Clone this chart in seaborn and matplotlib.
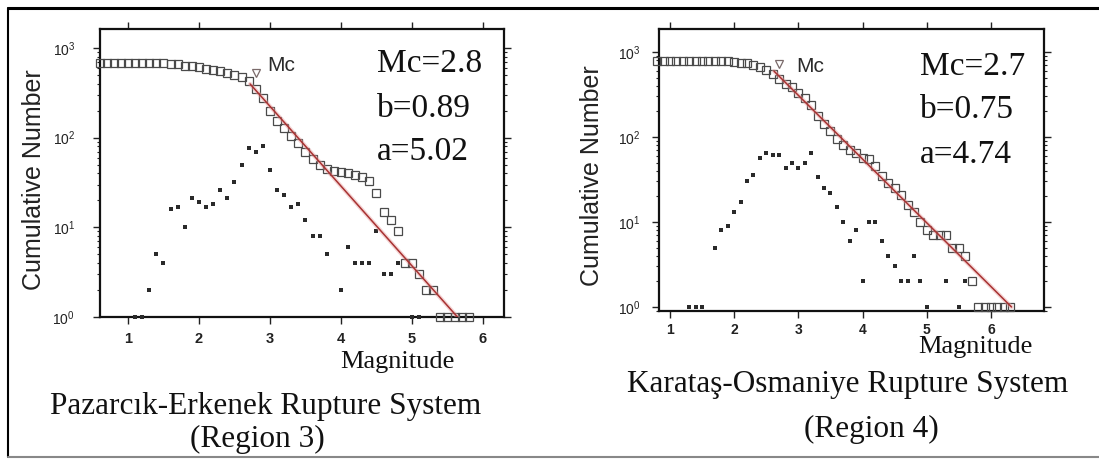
import matplotlib
matplotlib.use("Agg")
import numpy as np
import matplotlib.pyplot as plt
from matplotlib.lines import Line2D
from matplotlib.ticker import FixedLocator, LogLocator, NullFormatter
import seaborn as sns

# ---------------- Region 3: Pazarcık-Erkenek ----------------
cum3_mag = [0.6, 0.7, 0.8, 0.9, 1.0, 1.1, 1.2, 1.3, 1.4, 1.5, 1.6, 1.7, 1.8, 1.9,
            2.0, 2.1, 2.2, 2.3, 2.4, 2.5, 2.6, 2.7, 2.8, 2.9, 3.0, 3.1, 3.2, 3.3,
            3.4, 3.5, 3.6, 3.7, 3.8, 3.9, 4.0, 4.1, 4.2, 4.3, 4.4, 4.5, 4.6, 4.7,
            4.8, 4.9, 5.0, 5.1, 5.2, 5.3, 5.4, 5.5, 5.6, 5.7, 5.8]
cum3_n = [684, 684, 684, 684, 684, 684, 683, 682, 680, 675, 671, 655, 638, 628,
          607, 588, 571, 553, 527, 506, 474, 425, 348, 278, 198, 154, 128, 105,
          88, 70, 58, 50, 45, 42, 41, 40, 38, 36, 33, 24, 15, 12,
          9, 4, 4, 3, 2, 2, 1, 1, 1, 1, 1]
inc3_mag = [1.1, 1.2, 1.3, 1.4, 1.5, 1.6, 1.7, 1.8, 1.9, 2.0, 2.1, 2.2, 2.3, 2.4,
            2.5, 2.6, 2.7, 2.8, 2.9, 3.0, 3.1, 3.2, 3.3, 3.4, 3.5, 3.6, 3.7, 3.8,
            4.0, 4.1, 4.2, 4.3, 4.4, 4.5, 4.6, 4.7, 4.8, 5.0, 5.1]
inc3_n = [1, 1, 2, 5, 4, 16, 17, 10, 21, 19, 17, 18, 26, 21,
          32, 49, 77, 70, 80, 44, 26, 23, 17, 18, 12, 8, 8, 5,
          2, 6, 4, 4, 4, 9, 3, 3, 4, 1, 1]
mc3, mc3_marker_n = 2.8, 520
b3, a3 = 0.89, 5.02

# ---------------- Region 4: Karataş-Osmaniye ----------------
cum4_mag = [0.8, 0.9, 1.0, 1.1, 1.2, 1.3, 1.4, 1.5, 1.6, 1.7, 1.8, 1.9, 2.0, 2.1,
            2.2, 2.3, 2.4, 2.5, 2.6, 2.7, 2.8, 2.9, 3.0, 3.1, 3.2, 3.3, 3.4, 3.5,
            3.6, 3.7, 3.8, 3.9, 4.0, 4.1, 4.2, 4.3, 4.4, 4.5, 4.6, 4.7, 4.8, 4.9,
            5.0, 5.1, 5.2, 5.3, 5.4, 5.5, 5.6, 5.7, 5.8, 5.9, 6.0, 6.1, 6.2, 6.3]
cum4_n = [790, 790, 790, 790, 790, 790, 789, 788, 787, 787, 782, 774, 765, 752,
          735, 705, 669, 613, 548, 487, 426, 383, 334, 291, 241, 177, 143, 118,
          96, 81, 71, 65, 57, 55, 45, 35, 29, 25, 21, 16, 13, 10,
          8, 7, 7, 7, 5, 5, 4, 2, 1, 1, 1, 1, 1, 1]
inc4_mag = [1.3, 1.4, 1.5, 1.7, 1.8, 1.9, 2.0, 2.1, 2.2, 2.3, 2.4, 2.5, 2.6, 2.7,
            2.8, 2.9, 3.0, 3.1, 3.2, 3.3, 3.4, 3.5, 3.6, 3.7, 3.8, 3.9, 4.0, 4.1,
            4.2, 4.3, 4.4, 4.5, 4.6, 4.7, 4.8, 4.9, 5.0, 5.3, 5.5, 5.6]
inc4_n = [1, 1, 1, 5, 8, 9, 13, 17, 30, 36, 56, 65, 61, 61,
          43, 49, 43, 50, 64, 34, 25, 22, 15, 10, 6, 8, 2, 10,
          10, 6, 4, 3, 2, 2, 4, 2, 1, 2, 1, 2]
mc4, mc4_marker_n = 2.7, 720
b4, a4 = 0.75, 4.74

x_ticks = [1, 2, 3, 4, 5, 6]
x_tick_labels = ["1", "2", "3", "4", "5", "6"]

sns.set_style("ticks")
plt.rcParams["font.family"] = ["Liberation Sans", "DejaVu Sans"]
plt.rcParams["mathtext.fontset"] = "custom"
plt.rcParams["mathtext.rm"] = "Liberation Sans:bold"
plt.rcParams["mathtext.it"] = "Liberation Sans:bold"
plt.rcParams["mathtext.bf"] = "Liberation Sans:bold"

W, H = 1099, 459
fig = plt.figure(figsize=(W / 100, H / 100), dpi=100)


def fx(px):
    return px / W


def fy(py):
    return 1 - py / H


SERIF = "Liberation Serif"


def draw_panel(ax, cum_m, cum_n, inc_m, inc_n, mc, mc_n, b, a,
               xlim, ylim, ypad, xpad, xlabsize):
    ax.set_yscale("log")
    # non-cumulative counts per magnitude bin
    sns.scatterplot(x=inc_m, y=inc_n, ax=ax, marker="s", s=8,
                    color="#2a2a2a", linewidth=0, clip_on=False, zorder=3)
    # cumulative counts
    sns.lineplot(x=cum_m, y=cum_n, ax=ax, marker="s", markersize=5.6,
                 mfc="none", mec="#4a4a4a", mew=0.9, linestyle="none",
                 clip_on=False, zorder=4)
    # Gutenberg-Richter fit: log N = a - b M, from Mc down to N = 1
    m_fit = [mc - 0.08, a / b]
    n_fit = [10 ** (a - b * m) for m in m_fit]
    sns.lineplot(x=m_fit, y=n_fit, ax=ax, color="#e8a0a0", lw=3.0,
                 alpha=0.45, zorder=5)
    sns.lineplot(x=m_fit, y=n_fit, ax=ax, color="#a83232", lw=1.1, zorder=5)
    # completeness magnitude marker
    sns.lineplot(x=[mc], y=[mc_n], ax=ax, marker="v", markersize=6,
                 mfc="none", mec="#7a6a6a", mew=0.9, linestyle="none",
                 clip_on=False, zorder=6)

    ax.set_xlim(*xlim)
    ax.set_ylim(*ylim)
    ax.xaxis.set_major_locator(FixedLocator(x_ticks))
    ax.set_xticklabels(x_tick_labels)
    ax.yaxis.set_major_locator(LogLocator(base=10, numticks=10))
    ax.yaxis.set_minor_locator(LogLocator(base=10, subs=np.arange(2, 10), numticks=10))
    ax.yaxis.set_minor_formatter(NullFormatter())
    ax.tick_params(which="both", direction="out", top=True, right=True,
                   labeltop=False, labelright=False, color="#222222")
    ax.tick_params(which="major", length=5, width=1.0)
    ax.tick_params(which="minor", length=2.5, width=0.8)
    ax.tick_params(axis="y", pad=ypad, labelsize=10, labelcolor="#222222")
    ax.tick_params(axis="x", pad=xpad, labelsize=xlabsize, labelcolor="#222222")
    for lbl in ax.get_xticklabels():
        lbl.set_fontweight("bold")
    for sp in ax.spines.values():
        sp.set_linewidth(1.6)
        sp.set_color("#111111")
    ax.set_xlabel("")
    ax.set_ylabel("")
    ax.set_facecolor("white")


ax3 = fig.add_axes([fx(100), fy(317), (504 - 100) / W, (317 - 29) / H])
draw_panel(ax3, cum3_mag, cum3_n, inc3_mag, inc3_n, mc3, mc3_marker_n, b3, a3,
           xlim=(0.606, 6.296), ylim=(1, 1630), ypad=13, xpad=6, xlabsize=10.5)

ax4 = fig.add_axes([fx(659), fy(311), (1044 - 659) / W, (311 - 29) / H])
draw_panel(ax4, cum4_mag, cum4_n, inc4_mag, inc4_n, mc4, mc4_marker_n, b4, a4,
           xlim=(0.829, 6.826), ylim=(0.897, 1866), ypad=8.5, xpad=4, xlabsize=10)

# y-axis titles
fig.text(fx(34), fy(180), "Cumulative Number", rotation=90, ha="center",
         va="center", fontsize=18, color="#222222")
fig.text(fx(592), fy(176), "Cumulative Number", rotation=90, ha="center",
         va="center", fontsize=18, color="#222222")

# Mc labels next to the triangles
fig.text(fx(267), fy(66), "Mc", fontsize=15, ha="left", va="center", color="#2a2a2a")
fig.text(fx(796), fy(67), "Mc", fontsize=15, ha="left", va="center", color="#2a2a2a")

# fit parameters
for x0, ys, lines in [
    (377, (72, 117, 160), [f"Mc={mc3}", f"b={b3:.2f}", f"a={a3:.2f}"]),
    (920, (75, 118, 163), [f"Mc={mc4}", f"b={b4:.2f}", f"a={a4:.2f}"]),
]:
    for y0, s in zip(ys, lines):
        fig.text(fx(x0), fy(y0), s, family=SERIF, fontsize=24, ha="left",
                 va="baseline", color="#111111")

# x-axis titles
fig.text(fx(340), fy(368), "Magnitude", family=SERIF, fontsize=19,
         ha="left", va="baseline", color="#111111")
fig.text(fx(918), fy(353), "Magnitude", family=SERIF, fontsize=19,
         ha="left", va="baseline", color="#111111")

# panel captions
fig.text(fx(266), fy(414), "Pazarcık-Erkenek Rupture System", family=SERIF,
         fontsize=22.5, ha="center", va="baseline", color="#111111")
fig.text(fx(257), fy(447), "(Region 3)", family=SERIF, fontsize=22.5,
         ha="center", va="baseline", color="#111111")
fig.text(fx(848), fy(392), "Karataş-Osmaniye Rupture System", family=SERIF,
         fontsize=22.5, ha="center", va="baseline", color="#111111")
fig.text(fx(871), fy(437), "(Region 4)", family=SERIF, fontsize=22.5,
         ha="center", va="baseline", color="#111111")

# outer frame
fig.add_artist(Line2D([fx(8), 1], [fy(8), fy(8)], color="black", lw=2.2))
fig.add_artist(Line2D([fx(8), fx(8)], [fy(8), fy(457)], color="black", lw=1.5))
fig.add_artist(Line2D([fx(8), 1], [fy(457), fy(457)], color="#888888", lw=1.5))

fig.savefig("out.png", dpi=100, facecolor="white")
